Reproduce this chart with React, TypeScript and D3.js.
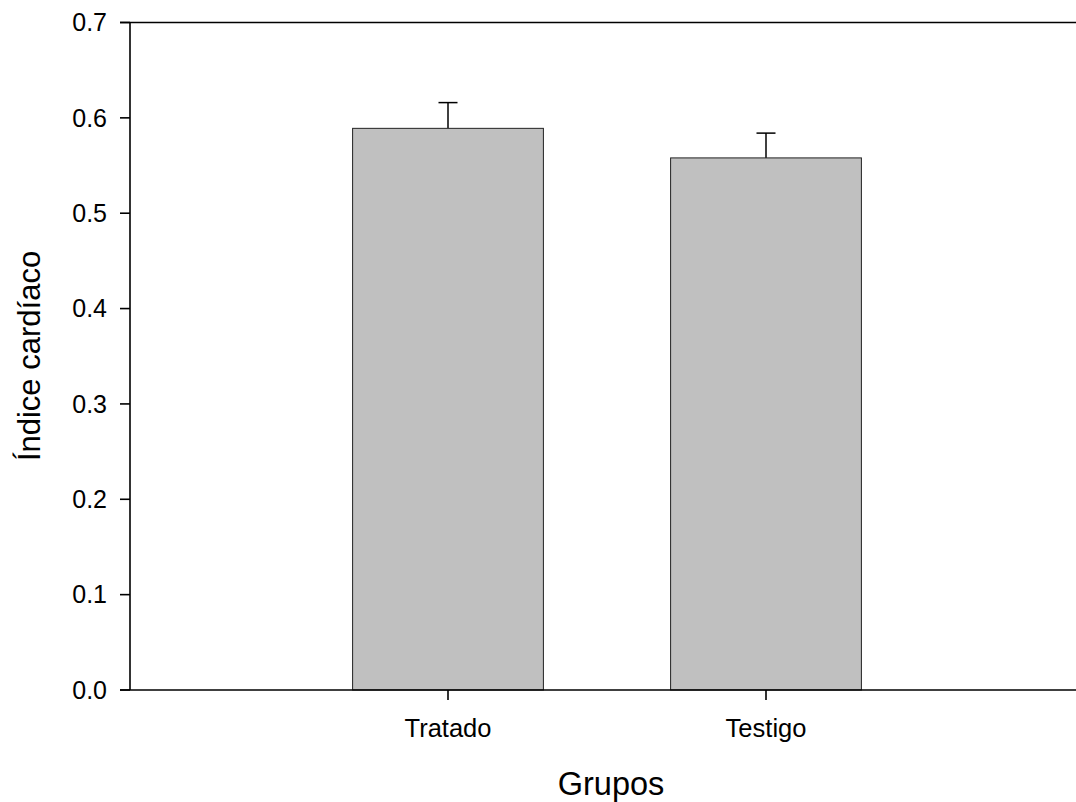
import * as d3 from 'd3'

const groups = ['Tratado', 'Testigo']
const means = [0.589, 0.558]
const errors = [0.027, 0.026]
const yTicks = [0, 0.1, 0.2, 0.3, 0.4, 0.5, 0.6, 0.7]

const W = 1076
const H = 802
const left = 130
const top = 22.5
const bottom = 690
const FONT = 'Liberation Sans, Arial, sans-serif'

export default function App() {
  // one slot per group, plus an empty slot on each side (right one runs off the picture)
  const x = d3.scaleLinear().domain([0, groups.length + 1]).range([left, left + 318 * 3])
  const y = d3.scaleLinear().domain([0, 0.7]).range([bottom, top])
  const barW = (x(1) - x(0)) * 0.6
  const fmt = d3.format('.1f')

  return (
    <svg width={W} height={H} style={{ position: 'absolute', left: 0, top: 0 }}>
      <rect width={W} height={H} fill="#fff" />

      {/* bars */}
      {groups.map((g, i) => {
        const cx = x(i + 1)
        const yTop = y(means[i])
        const yErr = y(means[i] + errors[i])
        return (
          <g key={g}>
            <line x1={cx} x2={cx} y1={yTop} y2={yErr} stroke="#000" strokeWidth={1.5} />
            <line x1={cx - 9.5} x2={cx + 9.5} y1={yErr} y2={yErr} stroke="#000" strokeWidth={1.5} />
            <rect x={cx - barW / 2} y={yTop} width={barW} height={bottom - yTop}
              fill="#c0c0c0" stroke="#222" strokeWidth={1} />
          </g>
        )
      })}

      {/* frame: top line, left axis, bottom axis */}
      <line x1={left - 10} x2={W} y1={top} y2={top} stroke="#000" strokeWidth={1.6} />
      <line x1={left} x2={left} y1={top} y2={bottom} stroke="#000" strokeWidth={1.6} />
      <line x1={left - 10} x2={W} y1={bottom} y2={bottom} stroke="#000" strokeWidth={1.6} />

      {/* y ticks */}
      {yTicks.map(t => (
        <g key={t} transform={`translate(0, ${y(t)})`}>
          <line x1={left - 10} x2={left} stroke="#000" strokeWidth={1.6} />
          <text x={left - 23} dy="0.35em" textAnchor="end" fontFamily={FONT} fontSize={25} fill="#000">
            {fmt(t)}
          </text>
        </g>
      ))}

      {/* x ticks */}
      {groups.map((g, i) => (
        <g key={g} transform={`translate(${x(i + 1)}, ${bottom})`}>
          <line y1={0} y2={10} stroke="#000" strokeWidth={1.6} />
          <text y={47} textAnchor="middle" fontFamily={FONT} fontSize={25.5} fill="#000">{g}</text>
        </g>
      ))}

      {/* axis titles */}
      <text x={611} y={795} textAnchor="middle" fontFamily={FONT} fontSize={32.5} fill="#000">Grupos</text>
      <text transform={`translate(40, 356) rotate(-90)`} textAnchor="middle"
        fontFamily={FONT} fontSize={31} fill="#000">Índice cardíaco</text>
    </svg>
  )
}
